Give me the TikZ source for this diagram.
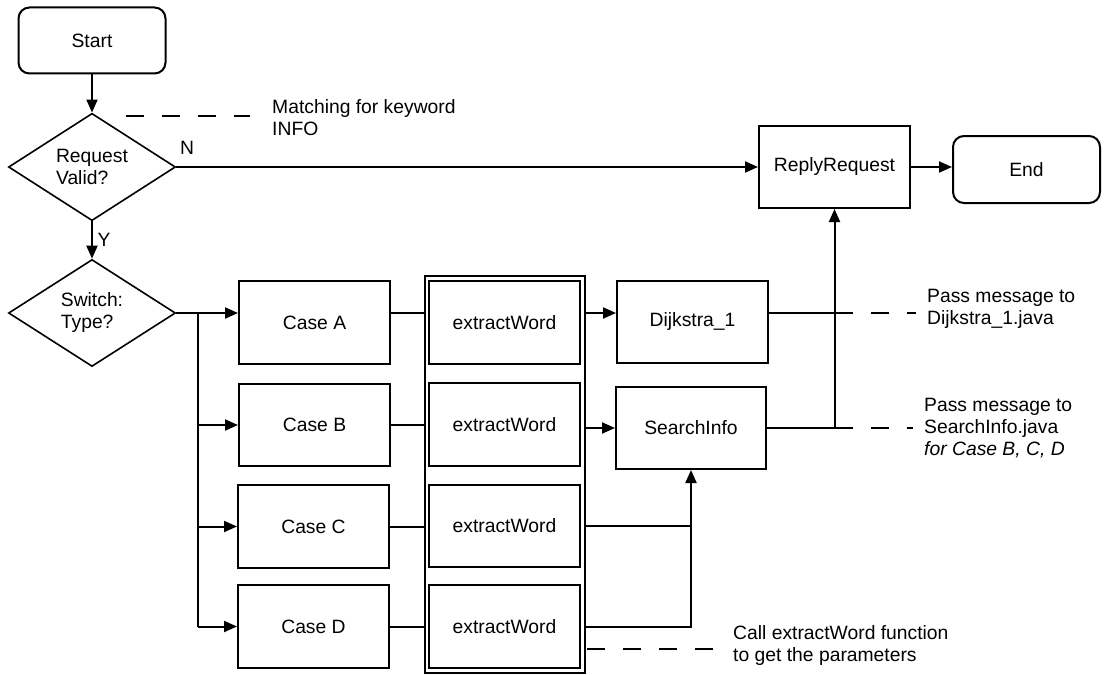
\documentclass[tikz,border=0pt]{standalone}
\usepackage{fontspec}
\setmainfont{Liberation Sans}
\usetikzlibrary{arrows.meta,shapes.geometric}
\begin{document}
\begin{tikzpicture}[x=1pt,y=-1pt,
  every node/.style={font=\fontsize{19.3}{22}\selectfont},
  box/.style={draw,line width=2pt,inner sep=0pt,minimum width=151pt,minimum height=83pt},
  term/.style={box,rounded corners=11pt,minimum width=147pt,minimum height=66pt},
  dec/.style={draw,line width=1.6pt,diamond,inner sep=0pt,align=left,minimum width=167pt,minimum height=107pt},
  frame/.style={draw,line width=1.3pt,inner sep=0pt,minimum width=160pt,minimum height=397pt},
  conn/.style={line width=2pt},
  arr/.style={conn,-{Triangle[length=13pt,width=11pt]}},
  notedash/.style={line width=1.4pt,dash pattern=on 18pt off 18pt},
  note/.style={align=left,anchor=west,inner sep=0pt}
]
\useasboundingbox (0,0) rectangle (1107,674);

% terminals and decisions
\node[term] (start) at (92,40.5) {Start};
\node[dec] (req) at (92,167) {Request\\Valid?};
\node[dec] (sw) at (92,313) {Switch:\\Type?};
\node[box,minimum height=82pt] (rr) at (834.5,167) {ReplyRequest};
\node[term,minimum height=67pt] (end) at (1026.5,169.5) {End};

% cases
\node[box] (caseA) at (314.5,322.5) {Case A};
\node[box,minimum height=82pt] (caseB) at (314.5,425) {Case B};
\node[box] (caseC) at (313.5,526.5) {Case C};
\node[box] (caseD) at (313.5,626.5) {Case D};

% extractWord column
\node[frame] (frame) at (505,474.5) {};
\node[box] (exA) at (504.5,322.5) {extractWord};
\node[box] (exB) at (504.5,424.5) {extractWord};
\node[box,minimum height=82pt] (exC) at (504.5,526) {extractWord};
\node[box] (exD) at (504.5,626.5) {extractWord};

% handlers
\node[box,minimum height=82pt] (dij) at (692.5,322) {Dijkstra\_1};
\node[box,minimum width=150pt,minimum height=82pt] (si) at (691,428) {SearchInfo};

% labels
\node (nlab) at (187,148) {N};
\node (ylab) at (104,240) {Y};

% notes
\node[note] (mnote) at (272,117.5) {Matching for keyword\\INFO};
\node[note] (dnote) at (927,308.5) {Pass message to\\Dijkstra\_1.java};
\node[note] (snote) at (924,428) {Pass message to\\SearchInfo.java\\\textit{for Case B, C, D}};
\node[note] (cnote) at (733,645.5) {Call extractWord function\\to get the parameters};

% main flow
\draw[arr] (start.south) -- (req.north);
\draw[arr] (req.south) -- (sw.north);
\draw[arr] (req.east) -- (rr.west);
\draw[arr] (rr.east) -- (rr.east -| end.west);

% switch to cases
\coordinate (trunk) at (198,313);
\draw[arr] (sw.east) -- (sw.east -| caseA.west);
\draw[conn] (trunk) -- (trunk |- caseD.west);
\draw[arr] (trunk |- caseB.west) -- (caseB.west);
\draw[arr] (trunk |- caseC.west) -- (caseC.west);
\draw[arr] (trunk |- caseD.west) -- (caseD.west);

% cases to extractWord
\draw[conn] (caseA.east |- sw.east) -- (frame.west |- sw.east);
\draw[conn] (caseB.east) -- (frame.west |- caseB.east);
\draw[conn] (caseC.east) -- (frame.west |- caseC.east);
\draw[conn] (caseD.east) -- (frame.west |- caseD.east);

% extractWord to handlers
\draw[arr] (frame.east |- sw.east) -- (dij.west |- sw.east);
\draw[arr] (frame.east |- si.west) -- (si.west);
\draw[conn] (frame.east |- exC.east) -- (si.south |- exC.east);
\draw[arr] (frame.east |- exD.east) -- (si.south |- exD.east) -- (si.south);

% handlers to ReplyRequest
\draw[conn] (dij.east |- sw.east) -- (rr.south |- sw.east);
\draw[conn] (si.east) -- (rr.south |- si.east);
\draw[arr] (rr.south |- si.east) -- (rr.south);

% note dashes
\coordinate (md1) at (126,116);
\coordinate (md2) at (250,116);
\draw[notedash] (md1) -- (md2);
\draw[notedash] (rr.south |- sw.east) -- ++(81,0);
\draw[notedash] (rr.south |- si.east) -- ++(78,0);
\coordinate (cd) at (587,649);
\draw[notedash] (cd) -- ++(130,0);
\end{tikzpicture}
\end{document}
